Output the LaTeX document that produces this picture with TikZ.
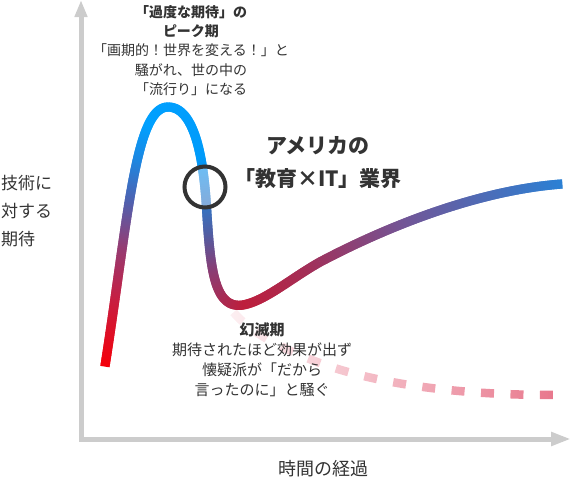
\documentclass[tikz,border=0pt]{standalone}
\usepackage{fontspec}
\setmainfont{Noto Sans CJK JP}
\usepackage{tikz}
\usetikzlibrary{arrows.meta,decorations.markings,fadings}

\definecolor{txtgray}{HTML}{333333}
\definecolor{axisgray}{HTML}{CCCCCC}
\definecolor{pinkdash}{RGB}{222,60,90}
% colour stops along the hype curve
\definecolor{hypeA}{RGB}{245,0,10}
\definecolor{hypeB}{RGB}{200,30,65}
\definecolor{hypeC}{RGB}{150,60,115}
\definecolor{hypeD}{RGB}{75,100,180}
\definecolor{hypeE}{RGB}{30,135,225}
\definecolor{hypeF}{RGB}{0,160,255}
\definecolor{hypeG}{RGB}{0,155,250}
\definecolor{hypeH}{RGB}{80,95,165}
\definecolor{hypeI}{RGB}{140,60,115}
\definecolor{hypeJ}{RGB}{190,30,60}
\definecolor{hypeK}{RGB}{165,45,85}
\definecolor{hypeL}{RGB}{115,85,150}
\definecolor{hypeM}{RGB}{40,130,215}

\tikzfading[name=pinkfade, left color=transparent!96, right color=transparent!30]

\newcommand\hmix[4]{%
  \pgfmathsetmacro\hp{100*(\hf-#1)/(#2-#1)}%
  \colorlet{hcur}{#4!\hp!#3}}
\newcommand\hypecolor{%
  \pgfmathsetmacro\hf{\pgfkeysvalueof{/pgf/decoration/mark info/distance from start}/\pgfdecoratedpathlength}%
  \ifdim\hf pt<0.077pt \hmix{0}{0.077}{hypeA}{hypeB}\else
  \ifdim\hf pt<0.139pt \hmix{0.077}{0.139}{hypeB}{hypeC}\else
  \ifdim\hf pt<0.198pt \hmix{0.139}{0.198}{hypeC}{hypeD}\else
  \ifdim\hf pt<0.243pt \hmix{0.198}{0.243}{hypeD}{hypeE}\else
  \ifdim\hf pt<0.285pt \hmix{0.243}{0.285}{hypeE}{hypeF}\else
  \ifdim\hf pt<0.395pt \hmix{0.285}{0.395}{hypeF}{hypeG}\else
  \ifdim\hf pt<0.484pt \hmix{0.395}{0.484}{hypeG}{hypeH}\else
  \ifdim\hf pt<0.530pt \hmix{0.484}{0.530}{hypeH}{hypeI}\else
  \ifdim\hf pt<0.590pt \hmix{0.530}{0.590}{hypeI}{hypeJ}\else
  \ifdim\hf pt<0.670pt \hmix{0.590}{0.670}{hypeJ}{hypeK}\else
  \ifdim\hf pt<0.800pt \hmix{0.670}{0.800}{hypeK}{hypeL}\else
  \hmix{0.800}{1}{hypeL}{hypeM}\fi\fi\fi\fi\fi\fi\fi\fi\fi\fi\fi}

\begin{document}
\begin{tikzpicture}[x=1pt, y=-1pt,
  label/.style={text=txtgray, align=center, inner sep=0pt},
  hypestroke/.style={decoration={markings,
    mark=between positions 0 and 1 step 0.6pt with
      {\hypecolor\fill[hcur] (-0.6pt,-4.6pt) rectangle (0.6pt,4.6pt);}},
    decorate}]
\useasboundingbox (0,0) rectangle (571,479);

% ---- axes ------------------------------------------------------------------
\coordinate (origin) at (81,439);
\coordinate (ytip) at (81,0);
\coordinate (xtip) at (571,439);
\draw[axisgray, line width=5pt, line join=miter,
  {Triangle[length=17pt,width=12pt]}-{Triangle[length=20pt,width=13pt]}]
  (ytip) -- (origin) -- (xtip);
\node[label, anchor=west, align=left, font=\fontsize{17}{28}\selectfont]
  (expect) at (1,211) {技術に\\対する\\期待};
\node[label, font=\fontsize{18}{18}\selectfont] (time) at (323,469) {時間の経過};

% ---- faded decline (dashed, drawn from its right end) ------------------------
\draw[pinkdash, line width=8.5pt, dash pattern=on 13pt off 16.5pt,
  path fading=pinkfade]
  (553,395) .. controls (450,395) and (360,382) .. (300,355)
  .. controls (240,330) and (222,305) .. (213,272);

% ---- hype curve ------------------------------------------------------------
\path[hypestroke]
  (105,366) .. controls (128,220) and (135,107) .. (168,107)
  .. controls (195,107) and (203,160) .. (206,200)
  .. controls (210,262) and (212,310) .. (243,305)
  .. controls (265,301) and (290,279) .. (320,262)
  .. controls (390,225) and (480,190) .. (562,184);

% ---- focus ring ------------------------------------------------------------
\node[circle, draw=txtgray, line width=4pt, minimum size=41pt, inner sep=0pt,
  fill=white, fill opacity=0.4] (focus) at (205,187) {};

% ---- annotations -----------------------------------------------------------
\node[label, font=\fontsize{14}{19.3}\selectfont] (peak) at (191,50.5)
  {\textbf{「過度な期待」の}\\\textbf{ピーク期}\\「画期的！世界を変える！」と\\騒がれ、世の中の\\「流行り」になる};
\node[label, font=\bfseries\fontsize{21}{33}\selectfont] (industry) at (318,163)
  {アメリカの\\「教育×IT」業界};
\node[label, font=\fontsize{15}{20}\selectfont] (trough) at (262,360)
  {\textbf{幻滅期}\\期待されたほど効果が出ず\\懐疑派が「だから\\言ったのに」と騒ぐ};

\end{tikzpicture}
\end{document}
